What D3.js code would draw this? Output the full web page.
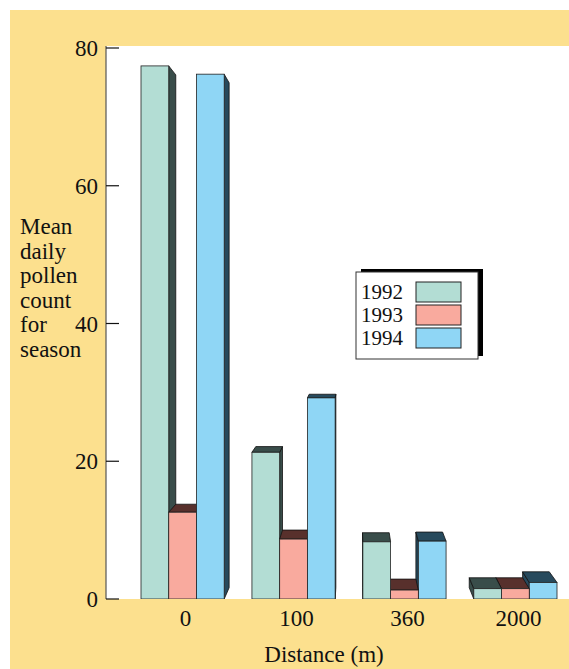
<!DOCTYPE html>
<html lang="en">
<head>
  <meta charset="UTF-8">
  <title>Mean daily pollen count</title>
  <script src="https://d3js.org/d3.v7.min.js"></script>
  <style>
    body { margin: 0; background: white; }
    text { font-family: "Liberation Serif", "DejaVu Serif", serif; fill: #111; }
  </style>
</head>
<body>
  <div id="chart"></div>
  <script>
    // data
    const distances = ["0", "100", "360", "2000"];
    const years = ["1992", "1993", "1994"];
    const pollen1992 = [77.4, 21.3, 8.3, 1.5];
    const pollen1993 = [12.6, 8.7, 1.3, 1.5];
    const pollen1994 = [76.2, 29.2, 8.4, 2.4];
    const yTicks = [0, 20, 40, 60, 80];
    const yTitle = ["Mean", "daily", "pollen", "count", "for", "season"];

    const frontColor = ["#b3ddd4", "#f9aa9e", "#8fd6f5"];
    const sideColor = ["#394d4a", "#58302c", "#274a5d"];

    const width = 569, height = 669;
    const plot = { left: 106, top: 46, bottom: 599 };

    // fake perspective: back face pulled toward a vanishing point
    const VP = [354, 302];
    const DEPTH = 0.038;

    const svg = d3.select("#chart").append("svg")
      .attr("width", width)
      .attr("height", height);

    svg.append("rect")
      .attr("x", 10).attr("y", 10)
      .attr("width", width - 10).attr("height", height - 10)
      .attr("fill", "#fce08e");

    svg.append("rect")
      .attr("x", plot.left).attr("y", plot.top)
      .attr("width", width - plot.left).attr("height", plot.bottom - plot.top)
      .attr("fill", "white");

    const y = d3.scaleLinear().domain([0, 80]).range([599, 48]);
    const x0 = d3.scaleBand().domain(distances).range([141, 557]).paddingInner(0.25).paddingOuter(0);
    const x1 = d3.scaleBand().domain(years).range([0, x0.bandwidth()]).padding(0);

    const series = [pollen1992, pollen1993, pollen1994];
    const bars = [];
    distances.forEach((d, i) => {
      years.forEach((yr, j) => {
        const xa = x0(d) + x1(yr);
        bars.push({ j, xa, xb: xa + x1.bandwidth(), yt: y(series[j][i]), yb: y(0) });
      });
    });

    const back = p => [p[0] + DEPTH * (VP[0] - p[0]), p[1] + DEPTH * (VP[1] - p[1])];

    // far from the vanishing point first
    bars.sort((a, b) => Math.abs((b.xa + b.xb) / 2 - VP[0]) - Math.abs((a.xa + a.xb) / 2 - VP[0]));

    const g = svg.append("g");
    bars.forEach(b => {
      const tl = [b.xa, b.yt], tr = [b.xb, b.yt], br = [b.xb, b.yb], bl = [b.xa, b.yb];
      const faces = [];
      if (VP[0] > b.xb) faces.push([tr, back(tr), back(br), br]);
      if (VP[0] < b.xa) faces.push([tl, back(tl), back(bl), bl]);
      if (b.yt > VP[1]) faces.push([tl, tr, back(tr), back(tl)]);
      faces.forEach(f => {
        g.append("polygon")
          .attr("points", f.map(p => p.join(",")).join(" "))
          .attr("fill", sideColor[b.j])
          .attr("stroke", "#111")
          .attr("stroke-width", 0.8)
          .attr("stroke-linejoin", "round");
      });
      g.append("rect")
        .attr("x", b.xa).attr("y", b.yt)
        .attr("width", b.xb - b.xa).attr("height", b.yb - b.yt)
        .attr("fill", frontColor[b.j])
        .attr("stroke", "#222")
        .attr("stroke-width", 0.8);
    });

    // cover the bottom below the baseline
    svg.append("rect")
      .attr("x", plot.left - 1).attr("y", plot.bottom)
      .attr("width", width).attr("height", height - plot.bottom)
      .attr("fill", "#fce08e");

    // y axis
    svg.append("line")
      .attr("x1", plot.left).attr("x2", plot.left)
      .attr("y1", plot.top).attr("y2", plot.bottom)
      .attr("stroke", "#555").attr("stroke-width", 1.2);

    const ticks = svg.append("g");
    yTicks.forEach(t => {
      ticks.append("line")
        .attr("x1", plot.left).attr("x2", plot.left + 13)
        .attr("y1", y(t)).attr("y2", y(t))
        .attr("stroke", "#111").attr("stroke-width", 1.2);
      ticks.append("text")
        .attr("x", 98).attr("y", y(t) + 8)
        .attr("text-anchor", "end")
        .attr("font-size", 23)
        .text(t);
    });

    yTitle.forEach((w, i) => {
      svg.append("text")
        .attr("x", 20).attr("y", 234 + i * 24.5)
        .attr("font-size", 23)
        .text(w);
    });

    // x labels
    distances.forEach(d => {
      svg.append("text")
        .attr("x", x0(d) + x0.bandwidth() / 2 + 3).attr("y", 626)
        .attr("text-anchor", "middle")
        .attr("font-size", 23)
        .text(d);
    });

    svg.append("text")
      .attr("x", 324).attr("y", 662)
      .attr("text-anchor", "middle")
      .attr("font-size", 23)
      .text("Distance (m)");

    // legend
    const legend = svg.append("g");
    legend.append("rect")
      .attr("x", 361).attr("y", 269)
      .attr("width", 122).attr("height", 87)
      .attr("fill", "black");
    legend.append("rect")
      .attr("x", 356).attr("y", 272)
      .attr("width", 122).attr("height", 87)
      .attr("fill", "white")
      .attr("stroke", "#333").attr("stroke-width", 1);
    years.forEach((yr, j) => {
      legend.append("text")
        .attr("x", 361).attr("y", 299 + j * 23)
        .attr("font-size", 21)
        .text(yr);
      legend.append("rect")
        .attr("x", 416).attr("y", 282 + j * 23)
        .attr("width", 45).attr("height", 20)
        .attr("fill", frontColor[j])
        .attr("stroke", "#222").attr("stroke-width", 1);
    });
  </script>
</body>
</html>
